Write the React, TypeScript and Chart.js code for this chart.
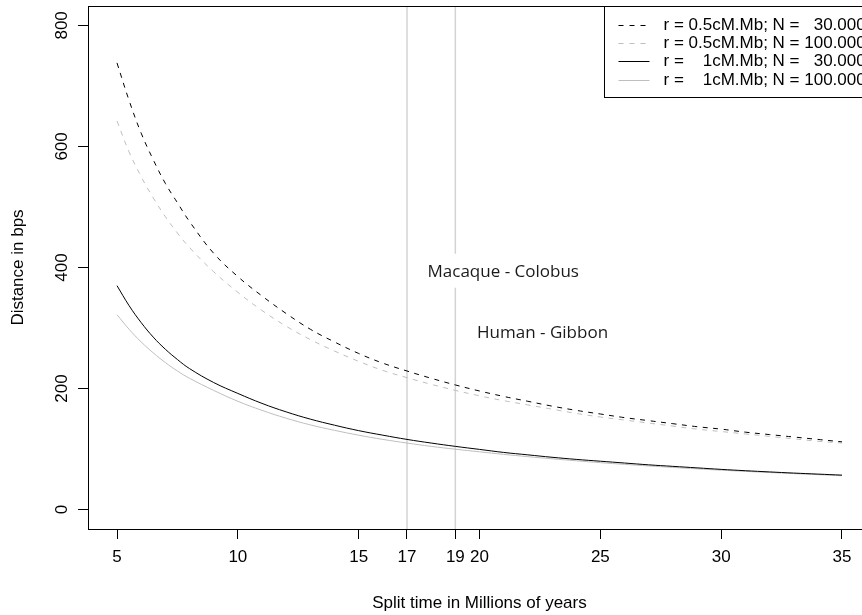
import React, { useEffect, useRef } from "react";
import { Chart, registerables } from "chart.js";

Chart.register(...registerables);

// Split time (millions of years)
const splitTimes = [
  5, 5.5, 6, 6.5, 7, 7.5, 8, 9, 10, 11, 12, 13, 14, 15, 16, 17, 18, 19, 20,
  21, 22, 23, 24, 25, 26, 27, 28, 29, 30, 31, 32, 33, 34, 35,
];

// r = 0.5 cM/Mb, N = 30.000 (black dashed)
const distR05N30 = [
  738, 676, 622, 578, 539, 507, 476, 423.5, 385, 353, 324, 298, 277, 258, 242,
  229, 217, 206, 196, 187, 179, 171, 164, 158, 152, 147, 142, 137, 133, 128,
  124, 120, 116, 112,
];

// r = 0.5 cM/Mb, N = 100.000 (grey dashed)
const distR05N100 = [
  642, 591, 550, 515, 484, 457, 433, 393, 359, 329, 303, 281, 262, 245, 230,
  218, 207, 197, 188, 180, 173, 166, 159, 153, 148, 143, 138, 133, 129, 125,
  121, 117, 113, 110,
];

// r = 1 cM/Mb, N = 30.000 (black solid)
const distR1N30 = [
  370, 337, 309, 285, 265, 248, 233, 210, 192, 175.5, 161.5, 149.5, 139.5,
  130.5, 123, 116, 110, 104.5, 99.5, 94.5, 90.5, 86.5, 83, 80, 77, 74, 71.5,
  69, 66.5, 64.3, 62.3, 60.4, 58.7, 57,
];

// r = 1 cM/Mb, N = 100.000 (grey solid)
const distR1N100 = [
  322, 298, 277, 259, 243, 229, 217, 197, 179, 164, 151, 140, 131, 123, 116,
  110, 104.5, 99.8, 95.5, 91.3, 87.5, 84, 80.7, 77.6, 74.8, 72.2, 69.7, 67.4,
  65.2, 63.2, 61.3, 59.5, 57.8, 56,
];

const seriesLabels = [
  "r = 0.5cM.Mb; N =   30.000",
  "r = 0.5cM.Mb; N = 100.000",
  "r =    1cM.Mb; N =   30.000",
  "r =    1cM.Mb; N = 100.000",
];

const xTicks = [5, 10, 15, 17, 19, 20, 25, 30, 35];
const yTicks = [0, 200, 400, 600, 800];
const markerTimes = [17, 19];
const annotationTexts = ["Macaque - Colobus", "Human - Gibbon"];
const annotationTimes = [17.85, 19.9];
const annotationDistances = [393, 291];

const X_MIN = 3.8;
const X_MAX = 36.2;
const Y_MIN = -32;
const Y_MAX = 832;

const AXIS_FONT = "'Liberation Sans', Arial, sans-serif";
const NOTE_FONT = "'Open Sans', sans-serif";
const BLACK = "#000000";
const GREY = "#bebebe";
const MARKER_GREY = "#d3d3d3";

const seriesStyles = [
  { color: BLACK, dash: [5, 5.5] },
  { color: GREY, dash: [5, 5.5] },
  { color: BLACK, dash: [] as number[] },
  { color: GREY, dash: [] as number[] },
];

const boxPlugin = {
  id: "rBox",
  afterDraw(chart: any) {
    const { ctx, chartArea } = chart;
    ctx.save();
    ctx.strokeStyle = BLACK;
    ctx.lineWidth = 1;
    const l = Math.round(chartArea.left) + 0.5;
    const t = Math.round(chartArea.top) + 0.5;
    const r = Math.round(chartArea.right) + 0.5;
    const b = Math.round(chartArea.bottom) + 0.5;
    ctx.strokeRect(l, t, r - l, b - t);
    ctx.restore();
  },
};

const annotationPlugin = {
  id: "rNotes",
  afterDatasetsDraw(chart: any) {
    const { ctx } = chart;
    const xs = chart.scales.x;
    const ys = chart.scales.y;
    ctx.save();
    ctx.font = `17px ${NOTE_FONT}`;
    ctx.textBaseline = "middle";
    ctx.textAlign = "left";
    annotationTexts.forEach((txt, i) => {
      const px = xs.getPixelForValue(annotationTimes[i]);
      const py = ys.getPixelForValue(annotationDistances[i]);
      const w = ctx.measureText(txt).width;
      ctx.fillStyle = "#ffffff";
      ctx.fillRect(px - 8, py - 18, w + 16, 34);
      ctx.fillStyle = "#1a1a1a";
      ctx.fillText(txt, px, py);
    });
    ctx.restore();
  },
};

const legendPlugin = {
  id: "rLegend",
  afterDraw(chart: any) {
    const { ctx, chartArea } = chart;
    const boxW = 267;
    const boxH = 91;
    const right = Math.round(chartArea.right) + 0.5;
    const top = Math.round(chartArea.top) + 0.5;
    const left = right - boxW;
    ctx.save();
    ctx.fillStyle = "#ffffff";
    ctx.fillRect(left, top, boxW, boxH);
    ctx.strokeStyle = BLACK;
    ctx.lineWidth = 1;
    ctx.strokeRect(left, top, boxW, boxH);
    ctx.font = `17px ${AXIS_FONT}`;
    ctx.textBaseline = "middle";
    ctx.textAlign = "left";
    seriesLabels.forEach((label, i) => {
      const y = Math.round(top + 18.3 * (i + 1)) + 0.5;
      const st = seriesStyles[i];
      ctx.strokeStyle = st.color;
      ctx.setLineDash(st.dash.length ? [5, 6] : []);
      ctx.beginPath();
      ctx.moveTo(left + 14, y);
      ctx.lineTo(left + 45, y);
      ctx.stroke();
      ctx.setLineDash([]);
      ctx.fillStyle = BLACK;
      ctx.fillText(label, left + 59, y);
    });
    ctx.restore();
  },
};

export default function App() {
  const canvasRef = useRef<HTMLCanvasElement | null>(null);

  useEffect(() => {
    document.documentElement.style.overflow = "hidden";
    document.body.style.overflow = "hidden";
    const canvas = canvasRef.current;
    if (!canvas) return;

    const seriesData = [distR05N30, distR05N100, distR1N30, distR1N100];
    const curveSets = seriesData.map((vals, i) => ({
      label: seriesLabels[i],
      data: splitTimes.map((t, k) => ({ x: t, y: vals[k] })),
      borderColor: seriesStyles[i].color,
      borderDash: seriesStyles[i].dash,
      borderWidth: 1,
      pointRadius: 0,
      fill: false,
      tension: 0.4,
    }));
    const markerSets = markerTimes.map((t) => ({
      label: `marker ${t}`,
      data: [
        { x: t, y: Y_MIN },
        { x: t, y: Y_MAX },
      ],
      borderColor: MARKER_GREY,
      borderWidth: 1.5,
      pointRadius: 0,
      fill: false,
    }));

    const chart = new Chart(canvas, {
      type: "line",
      data: { datasets: [...curveSets, ...markerSets] as any },
      options: {
        responsive: false,
        animation: false,
        events: [],
        layout: { padding: { top: 6, right: 9, left: 0, bottom: 0 } },
        plugins: {
          legend: { display: false },
          tooltip: { enabled: false },
        },
        scales: {
          x: {
            type: "linear",
            min: X_MIN,
            max: X_MAX,
            afterBuildTicks: (scale: any) => {
              scale.ticks = xTicks.map((v) => ({ value: v }));
            },
            afterFit: (scale: any) => {
              scale.height = 86;
              scale.paddingLeft = 0;
              scale.paddingRight = 0;
            },
            border: { display: true, color: BLACK, width: 1 },
            grid: {
              display: true,
              drawOnChartArea: false,
              drawTicks: true,
              tickLength: 10,
              tickColor: BLACK,
              tickWidth: 1,
            },
            ticks: {
              autoSkip: false,
              maxRotation: 0,
              minRotation: 0,
              padding: 8,
              color: BLACK,
              font: { family: AXIS_FONT, size: 17 },
              callback: (v: any) => String(v),
            },
            title: {
              display: true,
              text: "Split time in Millions of years",
              color: BLACK,
              font: { family: AXIS_FONT, size: 17 },
              padding: { top: 0, bottom: 1 },
            },
          },
          y: {
            type: "linear",
            min: Y_MIN,
            max: Y_MAX,
            afterBuildTicks: (scale: any) => {
              scale.ticks = yTicks.map((v) => ({ value: v }));
            },
            afterFit: (scale: any) => {
              scale.width = 88;
              scale.paddingTop = 0;
              scale.paddingBottom = 0;
            },
            border: { display: true, color: BLACK, width: 1 },
            grid: {
              display: true,
              drawOnChartArea: false,
              drawTicks: true,
              tickLength: 10,
              tickColor: BLACK,
              tickWidth: 1,
            },
            ticks: {
              autoSkip: false,
              minRotation: 90,
              maxRotation: 90,
              crossAlign: "center",
              padding: 2,
              color: BLACK,
              font: { family: AXIS_FONT, size: 17 },
              callback: (v: any) => String(v),
            },
            title: {
              display: true,
              text: "Distance in bps",
              color: BLACK,
              font: { family: AXIS_FONT, size: 17 },
              padding: { top: 8, bottom: 0 },
            },
          },
        },
      },
      plugins: [boxPlugin, annotationPlugin, legendPlugin],
    });

    return () => {
      chart.destroy();
    };
  }, []);

  return (
    <div style={{ position: "fixed", left: 0, top: 0, width: 880, height: 615 }}>
      <canvas
        ref={canvasRef}
        width={880}
        height={615}
        style={{ display: "block", width: 880, height: 615 }}
      />
    </div>
  );
}
